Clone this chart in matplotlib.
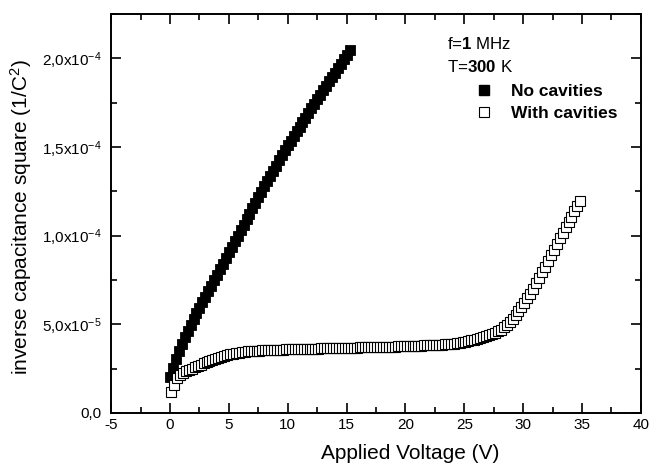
import numpy as np
import matplotlib
matplotlib.use("Agg")
import matplotlib.pyplot as plt
from matplotlib.lines import Line2D
from matplotlib.ticker import MultipleLocator, FixedLocator, FixedFormatter

plt.rcParams['font.family'] = ['Liberation Sans', 'DejaVu Sans']
plt.rcParams['mathtext.fontset'] = 'custom'
plt.rcParams['mathtext.rm'] = 'Liberation Sans'
plt.rcParams['mathtext.bf'] = 'Liberation Sans:bold'
plt.rcParams['mathtext.it'] = 'Liberation Sans:italic'
plt.rcParams['axes.unicode_minus'] = False

# no cavities: 1/C^2 in units of 1e-5, sweep 0 .. 15.25 V step 0.25 V
no_cav = [2.00, 2.55, 3.05, 3.50, 3.90, 4.28, 4.63, 4.97, 5.30,
          5.61, 5.92, 6.23, 6.55, 6.86, 7.17, 7.48, 7.80, 8.11, 8.42, 8.73,
          9.05, 9.36, 9.67, 9.98, 10.30, 10.61, 10.92, 11.23, 11.55, 11.86,
          12.17, 12.48, 12.80,
          13.09, 13.37, 13.66, 13.95, 14.24, 14.52, 14.81, 15.10,
          15.36, 15.62, 15.88, 16.14, 16.40, 16.66, 16.92, 17.18, 17.44,
          17.70, 17.95,
          18.20, 18.45, 18.70, 18.95, 19.20, 19.45, 19.70, 19.95, 20.20, 20.45]
no_cav_start, no_cav_step = 0.0, 0.25

# with cavities: 1/C^2 in units of 1e-5, sweep 0.1 .. 34.85 V step 0.25 V
with_cav = [1.15, 1.55, 1.95, 2.15, 2.25, 2.34, 2.42, 2.50, 2.58, 2.65,
            2.72, 2.79, 2.86, 2.93, 2.99, 3.05, 3.11, 3.17, 3.22, 3.27,
            3.31, 3.34, 3.37, 3.40, 3.42, 3.44, 3.46, 3.48, 3.49, 3.50,
            3.51, 3.52, 3.53, 3.54, 3.55, 3.55, 3.56, 3.57, 3.57, 3.58,
            3.58, 3.585, 3.59, 3.594, 3.599, 3.603, 3.608, 3.612, 3.617, 3.621,
            3.626, 3.63, 3.635, 3.639, 3.644, 3.648, 3.653, 3.657, 3.662, 3.666,
            3.67, 3.675, 3.679, 3.684, 3.688, 3.693, 3.697, 3.702, 3.706, 3.711,
            3.715, 3.72, 3.724, 3.729, 3.733, 3.738, 3.742, 3.747, 3.751, 3.756,
            3.76, 3.767, 3.774, 3.781, 3.788, 3.795, 3.802, 3.809, 3.816, 3.823,
            3.83, 3.84, 3.85, 3.86, 3.88, 3.89, 3.91, 3.93, 3.95, 3.98,
            4.01, 4.05, 4.09, 4.13, 4.17, 4.22, 4.27, 4.32, 4.38, 4.45,
            4.52, 4.60, 4.70, 4.82, 4.96, 5.12, 5.30, 5.50, 5.72, 5.95,
            6.20, 6.46, 6.72, 7.00, 7.30, 7.60, 7.92, 8.24, 8.56, 8.88,
            9.20, 9.52, 9.84, 10.15, 10.46, 10.77, 11.07, 11.37, 11.66, 11.95]
with_cav_start, with_cav_step = 0.1, 0.25

x_ticks = [-5, 0, 5, 10, 15, 20, 25, 30, 35, 40]
y_ticks = [0, 5e-5, 1e-4, 1.5e-4, 2e-4]
y_ticklabels = ["0,0", r"5,0x10$^{-5}$", r"1,0x10$^{-4}$",
                r"1,5x10$^{-4}$", r"2,0x10$^{-4}$"]

v_nc = no_cav_start + no_cav_step * np.arange(len(no_cav))
v_wc = with_cav_start + with_cav_step * np.arange(len(with_cav))
y_nc = np.array(no_cav) * 1e-5
y_wc = np.array(with_cav) * 1e-5

fig = plt.figure(figsize=(6.5, 4.67), dpi=100)
ax = fig.add_axes([0.171, 0.116, 0.815, 0.854])

ax.plot(v_nc, y_nc, 's', ms=7.5, mfc='black', mec='black', mew=0.6)
ax.plot(v_wc, y_wc, 's', ms=6.8, mfc='white', mec='black', mew=0.8)

ax.set_xlim(-5, 40)
ax.set_ylim(0, 2.25e-4)
ax.xaxis.set_major_locator(FixedLocator(x_ticks))
ax.xaxis.set_minor_locator(MultipleLocator(2.5))
ax.yaxis.set_major_locator(FixedLocator(y_ticks))
ax.yaxis.set_major_formatter(FixedFormatter(y_ticklabels))
ax.yaxis.set_minor_locator(MultipleLocator(2.5e-5))
ax.tick_params(which='both', direction='in', top=True, right=True,
               width=1.2, labelsize=11)
ax.tick_params(axis='x', pad=4)
ax.tick_params(axis='y', pad=7)
ax.tick_params(which='major', length=7)
ax.tick_params(which='minor', length=4)
for s in ax.spines.values():
    s.set_linewidth(1.4)

ax.set_xlabel("Applied Voltage (V)", fontsize=15)
ax.set_ylabel(r"inverse capacitance square (1/C$^{2}$)", fontsize=15)
ax.xaxis.set_label_coords(0.565, -0.078)
ax.yaxis.set_label_coords(-0.145, 0.49)

ax.text(0.634, 0.925, r"f=$\mathbf{1}$ MHz", transform=ax.transAxes,
        fontsize=12.2, va='center', ha='left')
ax.text(0.634, 0.867, r"T=$\mathbf{300}$ K", transform=ax.transAxes,
        fontsize=12.2, va='center', ha='left')

handles = [Line2D([], [], ls='none', marker='s', ms=7, mfc='black', mec='black'),
           Line2D([], [], ls='none', marker='s', ms=7, mfc='white', mec='black', mew=0.8)]
ax.legend(handles, ["No cavities", "With cavities"], loc='upper left',
          bbox_to_anchor=(0.687, 0.825), frameon=False, handlelength=1.0,
          handletextpad=1.05, labelspacing=0.42, borderpad=0, borderaxespad=0,
          prop={'weight': 'bold', 'size': 12.5})

fig.savefig("out.png", dpi=100)
